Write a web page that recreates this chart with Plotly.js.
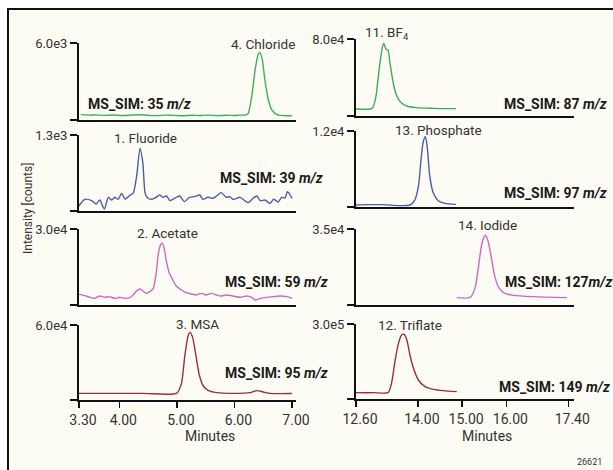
<!DOCTYPE html>
<html><head><meta charset="utf-8">
<script src="https://cdn.plot.ly/plotly-3.0.1.min.js"></script>
<style>html,body{margin:0;padding:0;background:#fff}#c{width:613px;height:470px}</style>
</head><body><div id="c"></div>
<script>
// ---------------- DATA ----------------
const leftTickVals = [3.3, 4, 5, 6, 7];
const leftTickText = ['3.30', '4.00', '5.00', '6.00', '7.00'];
const rightTickVals = [12.6, 14, 15, 16, 17.4];
const rightTickText = ['12.60', '14.00', '15.00', '16.00', '17.40'];

const peakNames = ['4. Chloride', '1. Fluoride', '2. Acetate', '3. MSA', '11. BF<sub>4</sub>', '13. Phosphate', '14. Iodide', '12. Triflate'];
const simLabels = ['35 ', '39 ', '59 ', '95 ', '87 ', '97 ', '127', '149 '];
const yTopVals = [6000, 1300, 30000, 60000, 80000, 12000, 35000, 300000];
const yTopText = ['6.0e3', '1.3e3', '3.0e4', '6.0e4', '8.0e4', '1.2e4', '3.5e4', '3.0e5'];

const chlorideT = [3.33, 3.45, 3.6, 3.75, 3.9, 4.05, 4.2, 4.35, 4.5, 4.65, 4.8, 4.95, 5.1, 5.25, 5.4, 5.55, 5.7, 5.85, 6.0, 6.1, 6.2, 6.24, 6.30, 6.36, 6.41, 6.44, 6.48, 6.53, 6.59, 6.65, 6.73, 6.85, 7.0];
const chlorideV = [420, 380, 400, 360, 390, 350, 380, 410, 370, 340, 380, 360, 330, 370, 350, 380, 340, 370, 350, 380, 400, 520, 1820, 3900, 5060, 5270, 4800, 3120, 1560, 780, 440, 340, 330];

const fluorideT = [3.29, 3.40, 3.52, 3.60, 3.66, 3.74, 3.81, 3.87, 3.92, 3.98, 4.04, 4.10, 4.19, 4.24, 4.30, 4.36, 4.41, 4.45, 4.50, 4.56, 4.64, 4.70, 4.76, 4.82, 4.88, 4.93, 4.99, 5.05, 5.13, 5.22, 5.31, 5.40, 5.45, 5.54, 5.63, 5.69, 5.77, 5.86, 5.92, 5.98, 6.10, 6.18, 6.24, 6.33, 6.39, 6.45, 6.53, 6.62, 6.68, 6.76, 6.82, 6.88, 6.92, 6.95, 7.00];
const fluorideV = [74, 200, 177, 120, 188, 35, 234, 188, 234, 200, 302, 205, 274, 302, 587, 1072, 816, 302, 217, 200, 234, 274, 234, 257, 177, 200, 234, 257, 160, 234, 245, 274, 200, 234, 217, 257, 314, 234, 245, 200, 234, 177, 143, 222, 257, 177, 188, 131, 200, 154, 234, 222, 331, 302, 217];

const acetateT = [3.30, 3.40, 3.49, 3.57, 3.66, 3.75, 3.83, 3.92, 4.01, 4.10, 4.19, 4.24, 4.30, 4.36, 4.41, 4.47, 4.53, 4.59, 4.64, 4.68, 4.72, 4.75, 4.78, 4.82, 4.87, 4.93, 4.99, 5.08, 5.16, 5.25, 5.34, 5.42, 5.51, 5.60, 5.69, 5.77, 5.86, 5.98, 6.10, 6.21, 6.30, 6.36, 6.45, 6.56, 6.68, 6.79, 6.91, 7.00];
const acetateV = [4200, 3680, 3030, 2630, 3550, 3030, 3290, 2630, 3030, 2630, 3030, 3950, 5530, 6320, 5530, 4600, 5260, 6580, 12500, 20400, 23950, 24350, 22370, 17100, 12500, 9870, 7500, 5920, 4870, 4340, 3950, 4600, 3950, 4600, 3950, 3550, 3950, 3550, 3030, 3550, 3030, 1970, 2630, 3030, 3290, 3550, 3290, 2630];

const msaT = [3.30, 3.8, 4.4, 5.0, 5.08, 5.14, 5.20, 5.23, 5.27, 5.33, 5.39, 5.46, 5.55, 5.69, 5.98, 6.27, 6.39, 6.50, 6.62, 7.00];
const msaV = [5300, 5300, 5300, 5500, 13300, 36000, 52000, 54100, 50700, 36000, 20000, 11200, 7470, 5870, 5300, 5870, 7470, 6400, 5300, 5200];

const bf4T = [12.6, 12.92, 12.98, 13.05, 13.13, 13.20, 13.23, 13.28, 13.32, 13.37, 13.43, 13.50, 13.60, 13.75, 13.97, 14.35, 14.86];
const bf4V = [7270, 7270, 9000, 20100, 51300, 72000, 75500, 69300, 68600, 54700, 37400, 23500, 14900, 10400, 8660, 7960, 7620];

const phosphateT = [12.6, 12.84, 13.22, 13.60, 13.82, 13.93, 14.01, 14.07, 14.12, 14.17, 14.21, 14.27, 14.35, 14.46, 14.61, 14.86];
const phosphateV = [316, 368, 368, 210, 316, 1100, 3210, 7420, 10300, 11100, 9530, 4790, 2160, 1000, 580, 420];

const iodideT = [14.88, 15.18, 15.29, 15.37, 15.44, 15.50, 15.53, 15.59, 15.67, 15.74, 15.84, 15.97, 16.16, 16.61, 17.37];
const iodideV = [3380, 3500, 7670, 17650, 27630, 31460, 32200, 29170, 20720, 13050, 7670, 5370, 4450, 3840, 3380];

const triflateT = [12.6, 13.0, 13.33, 13.41, 13.48, 13.56, 13.63, 13.69, 13.75, 13.82, 13.90, 14.01, 14.16, 14.35, 14.58, 14.88];
const triflateV = [25300, 25300, 26500, 69300, 149300, 222700, 256000, 258700, 236000, 176000, 122700, 76000, 49300, 38700, 33300, 29300];

// ---------------- LAYOUT / STYLE ----------------
const W = 613, H = 470;
const px = x => x / W;
const py = y => 1 - y / H;
const FONT = "Roboto, 'Liberation Sans', sans-serif";
const GREEN = '#3fae5a', BLUE = '#4a5cae', PINK = '#cc6ab8', RED = '#9a2f3a';

const series = [
  [chlorideT, chlorideV, GREEN], [fluorideT, fluorideV, BLUE], [acetateT, acetateV, PINK], [msaT, msaV, RED],
  [bf4T, bf4V, GREEN], [phosphateT, phosphateV, BLUE], [iodideT, iodideV, PINK], [triflateT, triflateV, RED]
];
const yDomPx = [[43, 120], [135, 211], [229, 305], [325, 400], [39, 116], [131, 207], [229, 305], [324, 399]];
const leftDom = [79, 296], rightDom = [356, 574];
const leftRange = [3.3, 7.07], rightRange = [12.6, 17.53];

const traces = [];
const layout = {
  width: W, height: H, margin: {l: 0, r: 0, t: 0, b: 0},
  paper_bgcolor: '#ffffff', plot_bgcolor: 'rgba(0,0,0,0)',
  showlegend: false, font: {family: FONT, color: '#2a2a2a', size: 14},
  shapes: [{type: 'rect', xref: 'paper', yref: 'paper', x0: px(8), x1: 1.05, y0: -0.05, y1: py(9),
            line: {color: '#111', width: 2}, fillcolor: '#fdfcf4', layer: 'below'}],
  annotations: []
};

for (let i = 0; i < 8; i++) {
  const n = i + 1, sfx = n === 1 ? '' : String(n);
  const left = i < 4, bottom = (i === 3 || i === 7);
  traces.push({x: series[i][0], y: series[i][1], xaxis: 'x' + sfx, yaxis: 'y' + sfx, type: 'scatter', mode: 'lines',
               line: {color: series[i][2], width: 1.4, shape: 'spline', smoothing: 0.7}, hoverinfo: 'skip'});
  const dom = left ? leftDom : rightDom;
  layout['xaxis' + sfx] = {
    domain: [px(dom[0]), px(dom[1])], range: left ? leftRange : rightRange, anchor: 'y' + sfx,
    showline: true, linecolor: '#111', linewidth: 2, showgrid: false, zeroline: false,
    ticks: bottom ? 'outside' : '', ticklen: 6, tickwidth: 1.5, tickcolor: '#111',
    showticklabels: bottom, tickvals: left ? leftTickVals : rightTickVals, ticktext: left ? leftTickText : rightTickText,
    tickfont: {family: FONT, size: 14, color: '#333'}, ticklabelshift: 4
  };
  layout['yaxis' + sfx] = {
    domain: [py(yDomPx[i][1]), py(yDomPx[i][0])], range: [0, yTopVals[i]], anchor: 'x' + sfx,
    showline: true, linecolor: '#111', linewidth: 2, showgrid: false, zeroline: false,
    ticks: 'outside', ticklen: 7, tickwidth: 1.5, tickcolor: '#111',
    tickvals: [0, yTopVals[i]], ticktext: [' ', yTopText[i]],
    tickfont: {family: FONT, size: 13, color: '#333'}
  };
}

const ann = (x, y, text, opts) => layout.annotations.push(Object.assign({xref: 'paper', yref: 'paper', x: px(x), y: py(y), text: text, showarrow: false, xanchor: 'center', yanchor: 'middle', font: {family: FONT, size: 13.5, color: '#333'}}, opts || {}));

// peak names
const namePos = [[263, 44], [145, 138], [167, 233], [197, 324], [387, 33], [438, 130], [487, 225], [410, 325]];
for (let i = 0; i < 8; i++) ann(namePos[i][0], namePos[i][1], peakNames[i]);
// MS_SIM labels
const simPos = [[86, 104], [218, 178], [223, 282], [223, 373], [502, 104], [502, 193], [503, 282], [497, 387]];
for (let i = 0; i < 8; i++) ann(simPos[i][0], simPos[i][1], '<b>MS_SIM: ' + simLabels[i] + '<i>m/z</i></b>', {xanchor: 'left', font: {family: FONT, size: 14, color: '#1a1a1a'}});

ann(210, 436, 'Minutes', {font: {family: FONT, size: 14, color: '#333'}});
ann(487, 436, 'Minutes', {font: {family: FONT, size: 14, color: '#333'}});
ann(28, 209, 'Intensity [counts]', {textangle: -90, font: {family: FONT, size: 12, color: '#333'}});
ann(589, 462, '26621', {font: {family: FONT, size: 9, color: '#333'}});

Plotly.newPlot('c', traces, layout, {staticPlot: true});
</script></body></html>
